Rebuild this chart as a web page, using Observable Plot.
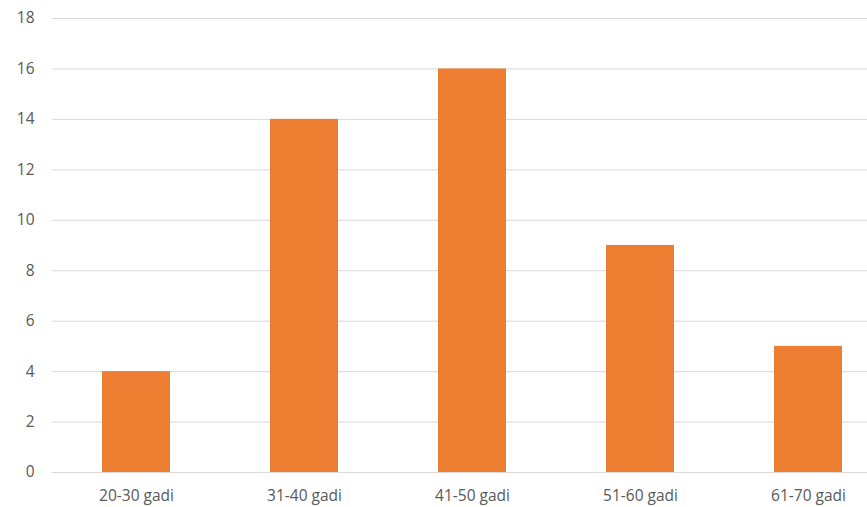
<!DOCTYPE html>
<html>
<head>
<meta charset="utf-8">
<script src="https://cdn.jsdelivr.net/npm/d3@7"></script>
<script src="https://cdn.jsdelivr.net/npm/@observablehq/plot@0.6"></script>
<style>
  html, body { margin: 0; padding: 0; background: #fff; }
  #chart svg { display: block; }
</style>
</head>
<body>
<div id="chart"></div>
<script>
const categories = ["20-30 gadi", "31-40 gadi", "41-50 gadi", "51-60 gadi", "61-70 gadi"];
const values = [4, 14, 16, 9, 5];
const yTicks = [0, 2, 4, 6, 8, 10, 12, 14, 16, 18];

const data = categories.map((c, i) => ({category: c, value: values[i]}));

const chart = Plot.plot({
  width: 867,
  height: 507,
  marginTop: 18,
  marginBottom: 35,
  marginLeft: 52,
  marginRight: 0,
  style: {fontFamily: "'Open Sans', sans-serif", fontSize: "15.5px", color: "#595959", background: "#fff"},
  x: {domain: categories, range: [52, 893], paddingInner: 0.595, paddingOuter: 0.2975, label: null, tickSize: 0, tickPadding: 17},
  y: {domain: [0, 18], ticks: yTicks, label: null, tickSize: 0, tickPadding: 18},
  marks: [
    Plot.ruleY(yTicks, {stroke: "#d9d9d9", strokeWidth: 1}),
    Plot.barY(data, {x: "category", y: "value", fill: "#ED7D31"})
  ]
});
document.getElementById("chart").appendChild(chart);
</script>
</body>
</html>
